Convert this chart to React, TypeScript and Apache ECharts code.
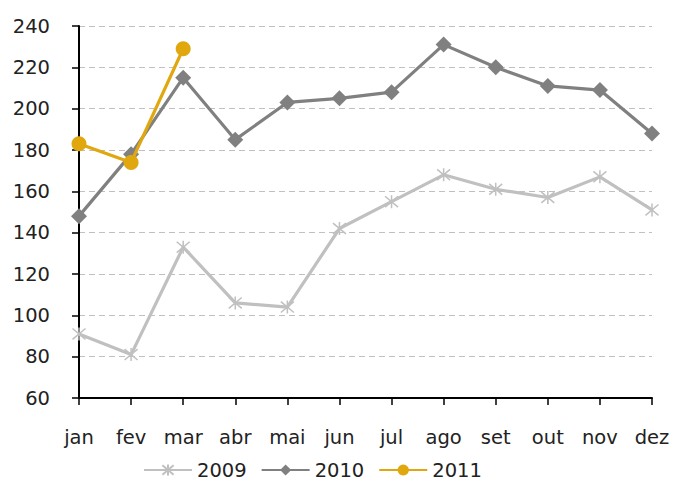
import React, { useEffect, useRef } from "react";
import * as echarts from "echarts";

const months = ["jan", "fev", "mar", "abr", "mai", "jun", "jul", "ago", "set", "out", "nov", "dez"];
const s2009 = [91, 81, 133, 106, 104, 142, 155, 168, 161, 157, 167, 151];
const s2010 = [148, 178, 215, 185, 203, 205, 208, 231, 220, 211, 209, 188];
const s2011 = [183, 174, 229];
const yTicks = { min: 60, max: 240, interval: 20 };

const FONT = "DejaVu Sans";
const asterisk = "path://M0,1L10,11M0,11L10,1M5,0L5,12";

export default function App() {
  const ref = useRef<HTMLDivElement>(null);
  useEffect(() => {
    const chart = echarts.init(ref.current!, null, { renderer: "svg" });
    chart.setOption({
      animation: false,
      textStyle: { fontFamily: FONT },
      grid: { left: 79, right: 21, top: 26, bottom: 82, containLabel: false },
      legend: {
        left: 143,
        top: 460,
        padding: 0,
        itemWidth: 48,
        itemHeight: 14,
        itemGap: 14,
        textStyle: { fontFamily: FONT, fontSize: 19.5, lineHeight: 19, color: "#222" },
        data: ["2009", "2010", "2011"],
      },
      xAxis: {
        type: "category",
        data: months,
        boundaryGap: false,
        axisLine: { lineStyle: { color: "#000", width: 2 } },
        axisTick: { show: true, length: 7, alignWithLabel: true, lineStyle: { color: "#000", width: 1.5 } },
        axisLabel: { fontFamily: FONT, fontSize: 19.5, color: "#222", margin: 29, interval: 0 },
        splitLine: { show: false },
      },
      yAxis: {
        type: "value",
        min: yTicks.min,
        max: yTicks.max,
        interval: yTicks.interval,
        axisLine: { show: true, lineStyle: { color: "#000", width: 2 } },
        axisTick: { show: true, length: 7, lineStyle: { color: "#000", width: 1.5 } },
        axisLabel: { fontFamily: FONT, fontSize: 19.5, color: "#222", margin: 29 },
        splitLine: { show: true, lineStyle: { color: "#c0c0c0", type: [6, 4], width: 1.2 } },
      },
      series: [
        {
          name: "2009",
          type: "line",
          data: s2009,
          symbol: asterisk,
          symbolSize: 13,
          showAllSymbol: true,
          lineStyle: { color: "#c0c0c0", width: 3.2 },
          itemStyle: { color: "#c0c0c0", borderColor: "#c0c0c0", borderWidth: 1.5 },
          z: 2,
        },
        {
          name: "2010",
          type: "line",
          data: s2010,
          symbol: "diamond",
          symbolSize: 16,
          showAllSymbol: true,
          lineStyle: { color: "#808080", width: 3.2 },
          itemStyle: { color: "#808080" },
          z: 3,
        },
        {
          name: "2011",
          type: "line",
          data: s2011,
          symbol: "circle",
          symbolSize: 15,
          showAllSymbol: true,
          lineStyle: { color: "#e0a70f", width: 3.2 },
          itemStyle: { color: "#e0a70f" },
          z: 4,
        },
      ],
    });
    return () => chart.dispose();
  }, []);
  return <div ref={ref} style={{ width: 673, height: 480, position: "absolute", left: 0, top: 0 }} />;
}
